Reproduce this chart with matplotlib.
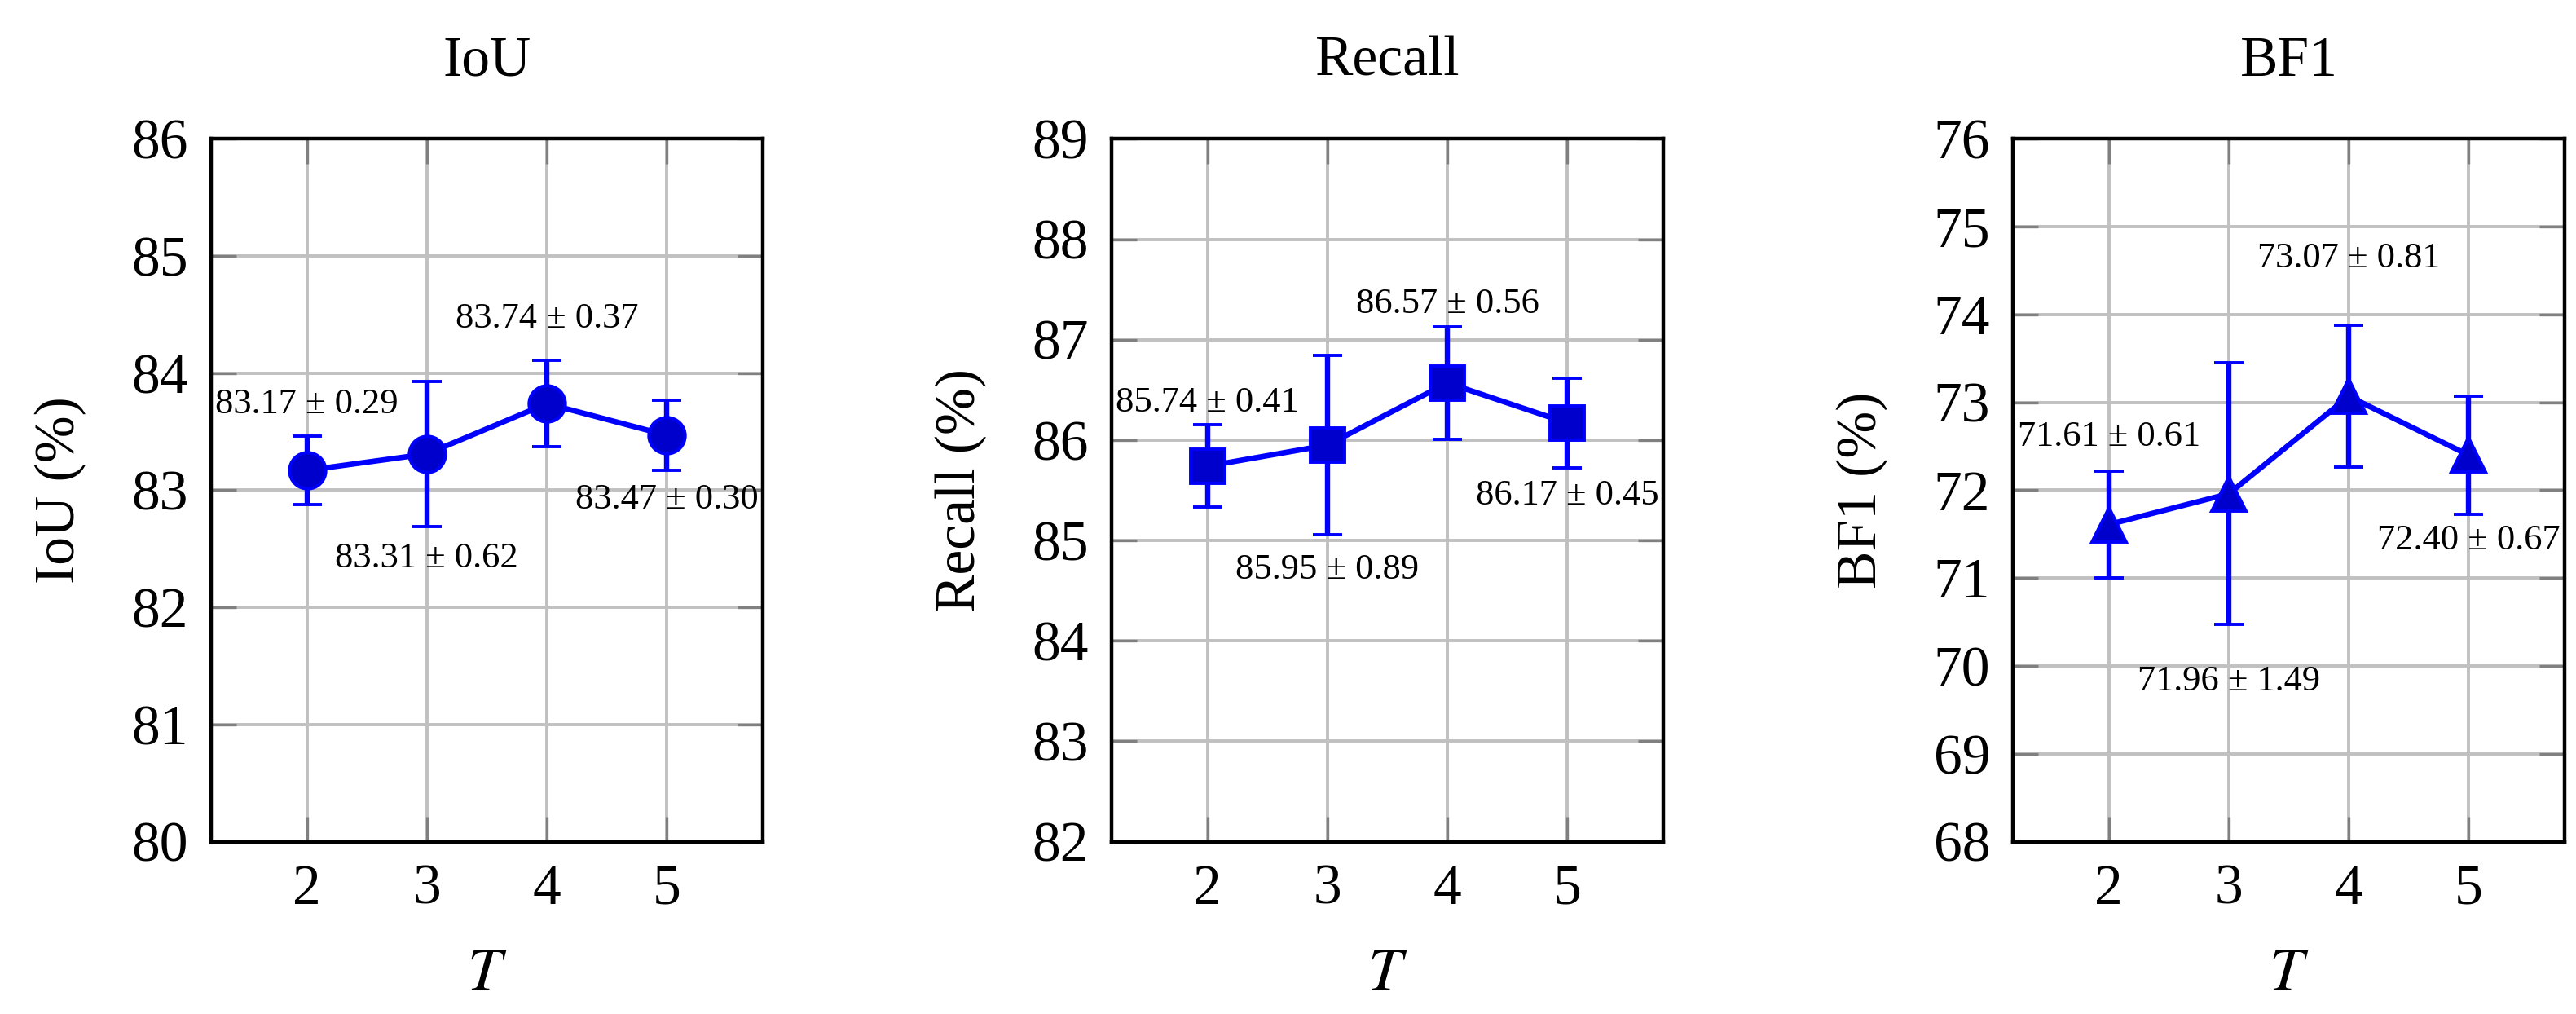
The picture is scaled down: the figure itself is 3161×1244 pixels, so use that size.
import matplotlib
matplotlib.use('Agg')
import matplotlib.pyplot as plt

plt.rcParams['font.family'] = ['Liberation Serif', 'DejaVu Serif']
plt.rcParams['mathtext.fontset'] = 'stix'

T = [2, 3, 4, 5]
metrics = ['IoU', 'Recall', 'BF1']
iou_mean = [83.17, 83.31, 83.74, 83.47]
iou_std = [0.29, 0.62, 0.37, 0.30]
recall_mean = [85.74, 85.95, 86.57, 86.17]
recall_std = [0.41, 0.89, 0.56, 0.45]
bf1_mean = [71.61, 71.96, 73.07, 72.40]
bf1_std = [0.61, 1.49, 0.81, 0.67]
ylims = [(80, 86), (82, 89), (68, 76)]
markers = ['o', 's', '^']

# label offset (points) from error bar end; + above, - below
label_off = [
    [14, -14, 18.5, -13],
    [10, -15.5, 10, -12],
    [15, -25, 29.5, -11.5],
]

means = [iou_mean, recall_mean, bf1_mean]
stds = [iou_std, recall_std, bf1_std]
lefts = [0.0819, 0.4315, 0.7814]

fig = plt.figure(figsize=(15.805, 6.22), dpi=200)

for i in range(3):
    ax = fig.add_axes([lefts[i], 0.170, 0.2142, 0.693])
    ax.errorbar(T, means[i], yerr=stds[i], color=(0, 0, 1), lw=2.4,
                marker=markers[i], ms=15 if markers[i] != 'o' else 16,
                mfc=(0, 0, 0.8), mec=(0, 0, 1), mew=1.4,
                ecolor=(0, 0, 1), elinewidth=2.3, capsize=6.5, capthick=2.3, zorder=3)
    for x, m, s, off in zip(T, means[i], stds[i], label_off[i]):
        yy = m + s if off > 0 else m - s
        ax.annotate(f'{m:.2f} ± {s:.2f}', (x, yy), xytext=(0, off),
                    textcoords='offset points', ha='center', va='center',
                    fontsize=16, zorder=4)
    ax.set_xlim(1.2, 5.8)
    ax.set_ylim(*ylims[i])
    ax.set_xticks(T)
    ax.set_yticks(range(ylims[i][0], ylims[i][1] + 1))
    ax.grid(True, color='#c0c0c0', lw=1.4)
    ax.set_axisbelow(True)
    ax.tick_params(direction='in', length=11, width=1.2, color='#808080',
                   top=True, right=True, labelsize=25, pad=10)
    for sp in ax.spines.values():
        sp.set_linewidth(1.6)
    ax.set_title(metrics[i], fontsize=25, pad=28)
    ax.set_ylabel(f'{metrics[i]} (%)', fontsize=25, labelpad=20)
    ax.set_xlabel('$T$', fontsize=27, labelpad=14)

fig.savefig('out.png', dpi=200)
